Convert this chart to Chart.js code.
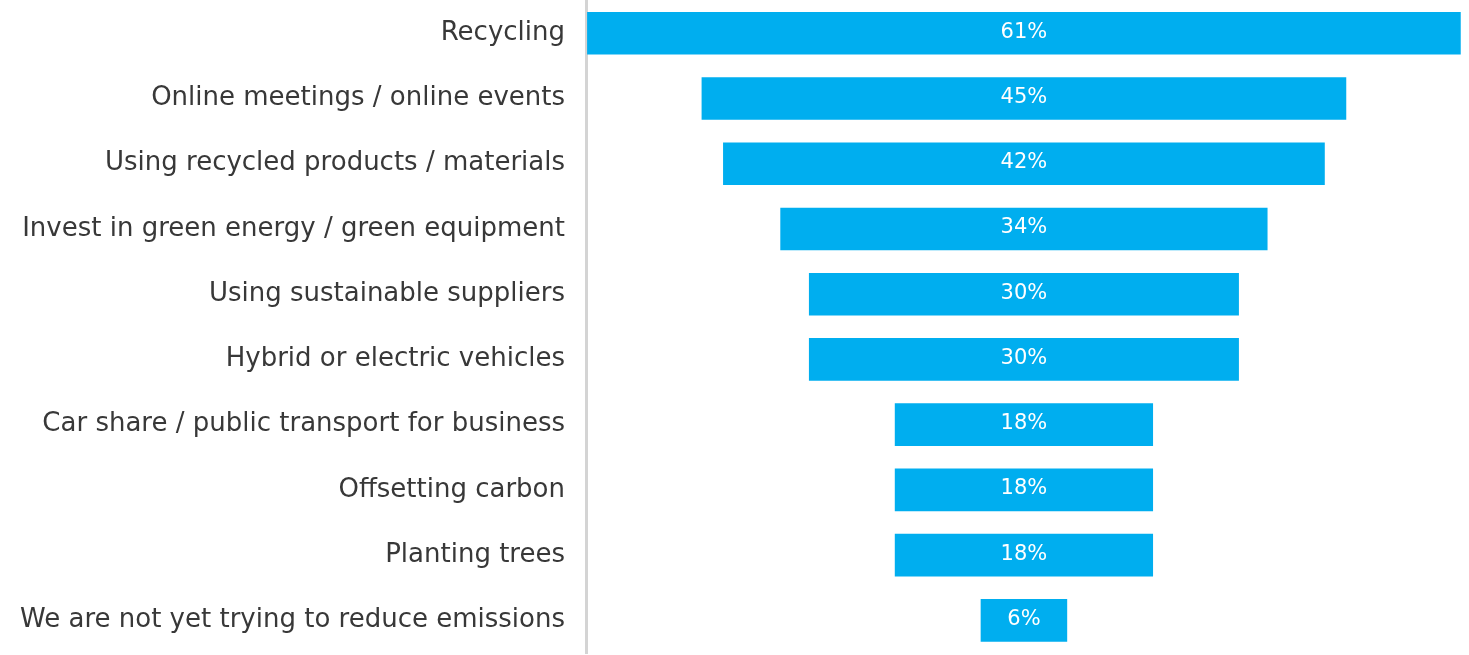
<!DOCTYPE html>
<html lang="en">
<head>
  <meta charset="UTF-8" />
  <title>Emission reduction actions</title>
  <script src="https://cdn.jsdelivr.net/npm/chart.js"></script>
  <style>
    html, body { margin: 0; padding: 0; background: #fff; }
    #wrap { position: relative; width: 1469px; height: 655px; }
  </style>
</head>
<body>
  <div id="wrap"><canvas id="funnel"></canvas></div>

  <script>
    // Share of businesses taking each action (%)
    const actions = [
      'Recycling',
      'Online meetings / online events',
      'Using recycled products / materials',
      'Invest in green energy / green equipment',
      'Using sustainable suppliers',
      'Hybrid or electric vehicles',
      'Car share / public transport for business',
      'Offsetting carbon',
      'Planting trees',
      'We are not yet trying to reduce emissions'
    ];
    const shares = [61, 45, 42, 34, 30, 30, 18, 18, 18, 6];

    // funnel: each bar is centred on zero, spanning -v/2 .. +v/2
    const spans = shares.map(v => [-v / 2, v / 2]);

    const FONT = '"DejaVu Sans", sans-serif';

    // white percentage label in the middle of every bar
    const barLabels = {
      id: 'barLabels',
      afterDatasetsDraw(chart) {
        const ctx = chart.ctx;
        const meta = chart.getDatasetMeta(0);
        ctx.save();
        ctx.fillStyle = '#ffffff';
        ctx.font = '21px ' + FONT;
        ctx.textAlign = 'center';
        ctx.textBaseline = 'middle';
        meta.data.forEach((bar, i) => {
          const cx = (bar.x + bar.base) / 2;
          ctx.fillText(shares[i] + '%', cx, bar.y - 1);
        });
        ctx.restore();
      }
    };

    new Chart(document.getElementById('funnel'), {
      type: 'bar',
      data: {
        labels: actions,
        datasets: [{
          data: spans,
          backgroundColor: '#00aeef',
          borderWidth: 0,
          barThickness: 42
        }]
      },
      options: {
        indexAxis: 'y',
        responsive: true,
        maintainAspectRatio: false,
        animation: false,
        layout: { padding: { left: 0, right: 0, top: 0, bottom: 2 } },
        plugins: {
          legend: { display: false },
          tooltip: { enabled: false }
        },
        scales: {
          x: {
            display: false,
            min: -30.6,
            max: 31.1
          },
          y: {
            afterFit(scale) { scale.width = 586; },
            // tick marks are invisible; their length gives the gap before the axis line
            grid: { display: false, drawTicks: true, tickLength: 21 },
            border: { display: true, color: '#d4d4d4', width: 3 },
            ticks: {
              padding: 0,
              color: '#383838',
              font: { family: FONT, size: 26, lineHeight: 0.05 }
            }
          }
        }
      },
      plugins: [barLabels]
    });
  </script>
</body>
</html>
